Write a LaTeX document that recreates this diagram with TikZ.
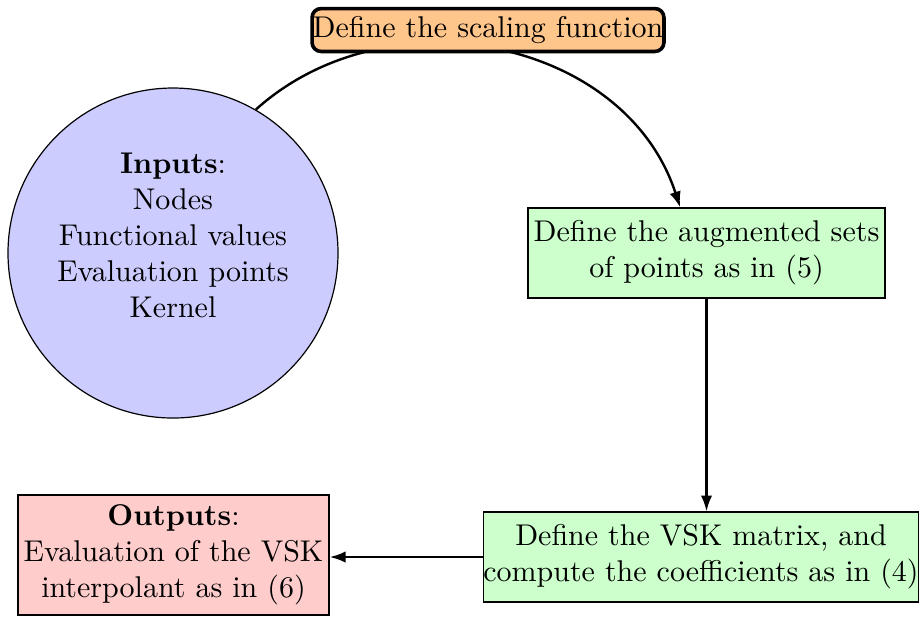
\documentclass[tikz,border=0pt]{standalone}
\usetikzlibrary{arrows.meta}
\begin{document}
\begin{tikzpicture}[x=0.33333pt, y=0.33333pt,
  box/.style={draw, align=center, inner sep=0pt, minimum height=30pt},
  arr/.style={thick, -{Latex[length=5.3pt,width=3.8pt]}},
  startbox/.style={draw, very thick, rounded corners=3pt, fill=orange!45, inner sep=0pt, minimum width=117.3pt, minimum height=14.3pt}]
\useasboundingbox (0,0) rectangle (919,-617);
\node[circle, draw, fill=blue!20, minimum size=110pt, inner sep=0pt, align=center] (in) at (173,-253)
  {\textbf{Inputs}:\\Nodes\\Functional values\\Evaluation points\\Kernel\\\mbox{}};
\node[box, fill=green!20, minimum width=119pt] (aug) at (706.5,-253) {Define the augmented sets\\of points as in (5)};
\node[box, fill=green!20, minimum width=144pt] (vsk) at (701,-557) {Define the VSK matrix, and\\compute the coefficients as in (4)};
\node[box, fill=red!20, minimum width=103.7pt, minimum height=40pt] (out) at (173.5,-555) {\textbf{Outputs}:\\Evaluation of the VSK\\interpolant as in (6)};
\draw[arr] (in.60) .. controls +(132,119) and +(-55,169) .. (aug.120);
\node[startbox] (scale) at (488,-30) {Define the scaling function};
\draw[arr] (aug.south) -- (vsk.north -| aug.south);
\draw[arr] (vsk.west) -- (vsk.west -| out.east);
\end{tikzpicture}
\end{document}
